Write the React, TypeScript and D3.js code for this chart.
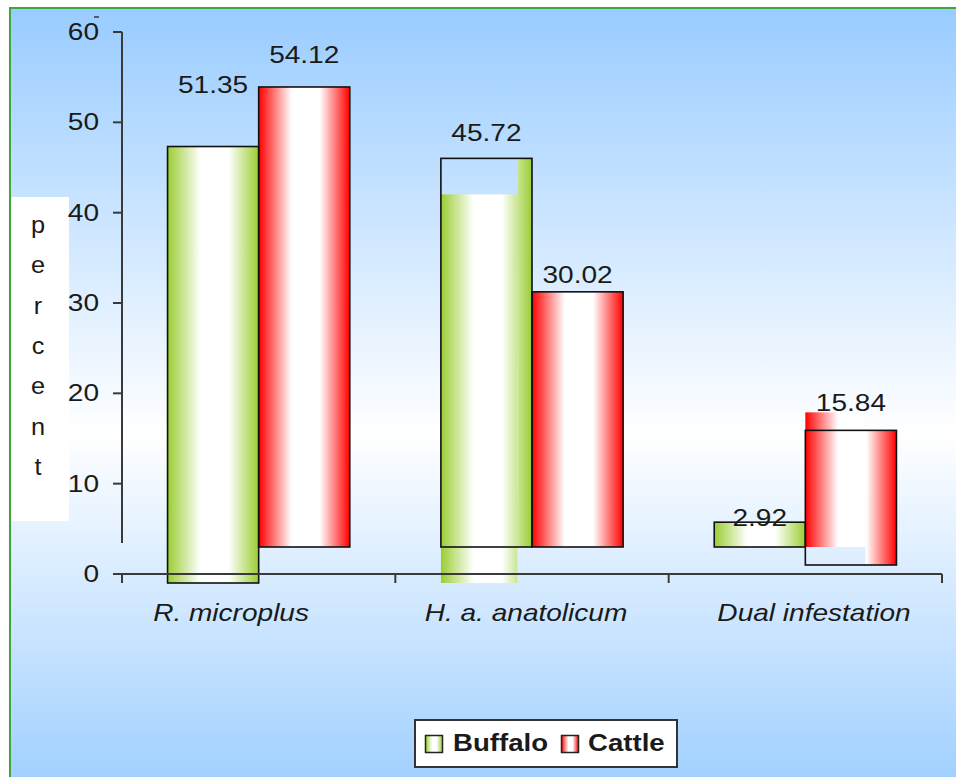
import React from "react";
import * as d3 from "d3";

const categories = ["R. microplus", "H. a. anatolicum", "Dual infestation"];
const seriesNames = ["Buffalo", "Cattle"];
const buffaloValues = [51.35, 45.72, 2.92];
const cattleValues = [54.12, 30.02, 15.84];
const yTickValues = [0, 10, 20, 30, 40, 50, 60];
const axisTitleLetters = ["p", "e", "r", "c", "e", "n", "t"];
const seriesColors = ["#9ACD32", "#FF0000"];

// rendering quirks of the source picture (pixel shifts), per [category][series]
const outlineShift = [[36, 0], [0, 0], [0, 18]];
const fillSplit = [[1, 1], [0.84, 1], [1, 0.66]];
const fillShiftLeft = [[36, 0], [36, 0], [0, 0]];
const fillShiftRight = [[36, 0], [0, 0], [0, 18]];
const labelOffset = [[-26, -32], [-25, -16.5], [-4, -9]];
const catLabelShift = [-27.6, -6, 8.7];

const W = 956;
const H = 777;
const FONT = "'Liberation Sans', Arial, Helvetica, sans-serif";
const SX = 1.22;

function T(props: any) {
  const { x, y, anchor = "middle", size = 23, weight = "normal", italic = false, children, sx = SX } = props;
  return (
    <text
      transform={`translate(${x},${y}) scale(${sx},1)`}
      textAnchor={anchor}
      fontSize={size}
      fontWeight={weight}
      fontStyle={italic ? "italic" : "normal"}
      fontFamily={FONT}
      fill="#1a1a1a"
    >
      {children}
    </text>
  );
}

export default function App() {
  const x = d3.scaleBand<string>().domain(categories).range([122, 942]);
  const xs = d3
    .scaleBand<string>()
    .domain(seriesNames)
    .range([0, x.bandwidth()])
    .paddingInner(0)
    .paddingOuter(0.5);
  const yAxis = d3.scaleLinear().domain([0, 60]).range([574, 32]);
  const yBar = d3.scaleLinear().domain([0, 60]).range([547, 37]);
  const values = [buffaloValues, cattleValues];

  const bars: any[] = [];
  categories.forEach((c, i) => {
    seriesNames.forEach((s, j) => {
      const v = values[j][i];
      const bx = (x(c) as number) + (xs(s) as number);
      const bw = xs.bandwidth();
      const top = yBar(v);
      const base = yBar(0);
      bars.push({ c, s, i, j, v, bx, bw, top, base, id: `bg${i}${j}` });
    });
  });

  const axisColor = "#3a3a3a";

  return (
    <svg
      width={W}
      height={H}
      style={{ position: "absolute", left: 0, top: 0, display: "block" }}
    >
      <defs>
        <linearGradient id="bgGrad" gradientUnits="userSpaceOnUse" x1={0} y1={8} x2={0} y2={810}>
          <stop offset="0" stopColor="#99CCFF" />
          <stop offset="0.53" stopColor="#FFFFFF" />
          <stop offset="1" stopColor="#99CCFF" />
        </linearGradient>
        {bars.map((b) => (
          <linearGradient
            key={b.id}
            id={b.id}
            gradientUnits="userSpaceOnUse"
            x1={b.bx}
            y1={0}
            x2={b.bx + b.bw}
            y2={0}
          >
            <stop offset="0" stopColor={seriesColors[b.j]} />
            <stop offset="0.36" stopColor="#FFFFFF" />
            <stop offset="0.67" stopColor="#FFFFFF" />
            <stop offset="1" stopColor={seriesColors[b.j]} />
          </linearGradient>
        ))}
        {seriesNames.map((s, j) => (
          <linearGradient key={s} id={`lg${j}`} x1="0" y1="0" x2="1" y2="0">
            <stop offset="0" stopColor={seriesColors[j]} />
            <stop offset="0.4" stopColor="#FFFFFF" />
            <stop offset="0.65" stopColor="#FFFFFF" />
            <stop offset="1" stopColor={seriesColors[j]} />
          </linearGradient>
        ))}
      </defs>

      <rect x={0} y={0} width={W} height={H} fill="#FFFFFF" />
      <rect x={10} y={8} width={980} height={820} fill="url(#bgGrad)" stroke="#3FA53F" strokeWidth={2} />

      {/* axis title box */}
      <rect x={11} y={197} width={58} height={324} fill="#FFFFFF" />
      {axisTitleLetters.map((l, k) => (
        <T key={k} x={38} y={233 + k * 40.3} size={23} sx={1.1}>
          {l}
        </T>
      ))}

      {/* bar fills */}
      {bars.map((b) => {
        const split = fillSplit[b.i][b.j];
        const h = b.base - b.top;
        return (
          <g key={`f${b.id}`}>
            <rect
              x={b.bx}
              y={b.top + fillShiftLeft[b.i][b.j]}
              width={b.bw * split}
              height={h}
              fill={`url(#${b.id})`}
            />
            {split < 1 && (
              <rect
                x={b.bx + b.bw * split}
                y={b.top + fillShiftRight[b.i][b.j]}
                width={b.bw * (1 - split)}
                height={h}
                fill={`url(#${b.id})`}
              />
            )}
          </g>
        );
      })}
      {/* bar outlines */}
      {bars.map((b) => (
        <rect
          key={`o${b.id}`}
          x={b.bx}
          y={b.top + outlineShift[b.i][b.j]}
          width={b.bw}
          height={b.base - b.top}
          fill="none"
          stroke="#111"
          strokeWidth={1.6}
        />
      ))}

      {/* value labels */}
      {bars.map((b) => (
        <T key={`l${b.id}`} x={b.bx + b.bw / 2} y={b.top + labelOffset[b.i][b.j] + 8}>
          {b.v.toFixed(2)}
        </T>
      ))}

      {/* y axis */}
      <line x1={122} x2={122} y1={yAxis(60)} y2={543} stroke={axisColor} strokeWidth={2} />
      {yTickValues.map((t) => (
        <g key={t}>
          <line x1={113} x2={122} y1={yAxis(t)} y2={yAxis(t)} stroke={axisColor} strokeWidth={2} />
          <T x={99} y={yAxis(t) + 8} anchor="end">
            {t}
          </T>
        </g>
      ))}
      <line x1={94} x2={99} y1={17} y2={17} stroke={axisColor} strokeWidth={1.5} />

      {/* x axis */}
      <line x1={113} x2={942} y1={yAxis(0)} y2={yAxis(0)} stroke={axisColor} strokeWidth={2} />
      {[...categories.map((c) => x(c) as number), 942].map((px, k) => (
        <line key={k} x1={px} x2={px} y1={yAxis(0)} y2={yAxis(0) + 9} stroke={axisColor} strokeWidth={2} />
      ))}
      {categories.map((c, i) => (
        <T key={c} x={(x(c) as number) + x.bandwidth() / 2 + catLabelShift[i]} y={621} italic>
          {c}
        </T>
      ))}

      {/* legend */}
      <rect x={415} y={720} width={262} height={47} fill="#FFFFFF" stroke="#333" strokeWidth={2} />
      <rect x={425.5} y={735.5} width={17} height={17} fill="url(#lg0)" stroke="#222" strokeWidth={1.5} />
      <T x={453} y={751} anchor="start" weight="bold" sx={1.2}>
        {seriesNames[0]}
      </T>
      <rect x={561.5} y={735.5} width={17} height={17} fill="url(#lg1)" stroke="#222" strokeWidth={1.5} />
      <T x={588} y={751} anchor="start" weight="bold" sx={1.2}>
        {seriesNames[1]}
      </T>
    </svg>
  );
}
